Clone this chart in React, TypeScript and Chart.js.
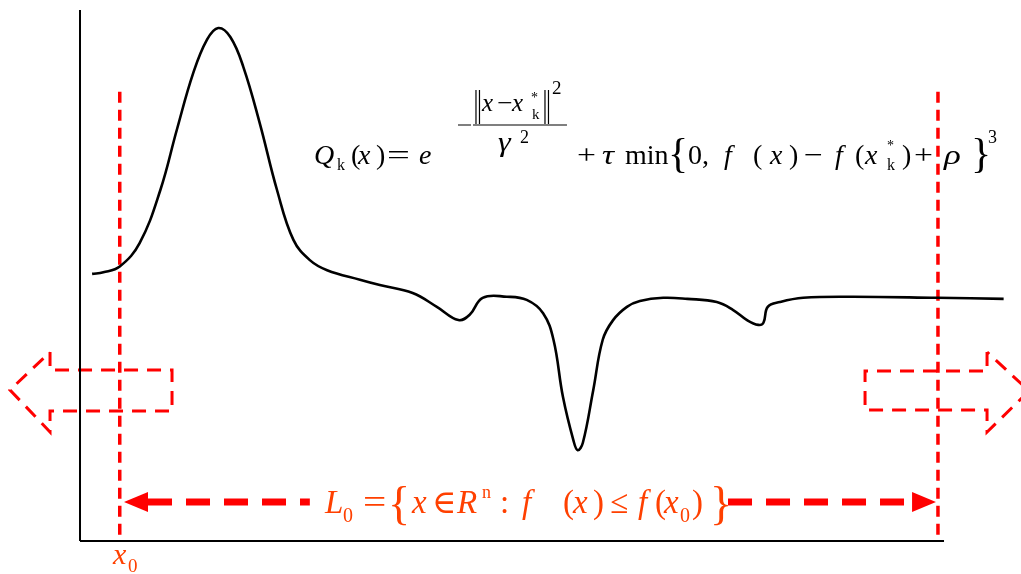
import { useEffect, useRef } from "react";
import { Chart, registerables } from "chart.js";

Chart.register(...registerables);

// Sampled objective curve f(x)
const curveX = [
  1.4, 2.7, 4.6, 6.9, 9.3, 11.2, 13.1, 14.7, 16.0, 17.4, 18.9, 20.8, 22.8, 24.7,
  26.6, 28.6, 32.4, 34.7, 38.5, 41.3, 43.8, 45.1, 46.6, 49.4, 51.7, 53.6, 54.8,
  55.9, 57.1, 57.6, 58.2, 59.4, 60.5, 61.7, 63.3, 64.8, 67.5, 70.3, 73.7, 75.6,
  77.2, 78.5, 79.1, 79.6, 81.0, 83.7, 89.5, 99.2, 106.9,
];
const curveY = [
  50.3, 50.6, 51.7, 56.1, 66.1, 77.4, 88.1, 94.4, 96.6, 94.9, 89.3, 78.7, 66.1,
  56.7, 52.9, 51.0, 49.2, 48.2, 46.7, 44.1, 41.6, 42.6, 45.8, 46.0, 45.4, 42.9,
  37.9, 27.1, 19.0, 17.1, 18.5, 28.4, 37.9, 41.6, 44.1, 45.2, 45.8, 45.6, 45.0,
  43.5, 41.6, 40.7, 41.1, 44.1, 45.0, 45.8, 46.0, 45.8, 45.6,
];

// Axis extents
const axisXMax = 100;
const axisYMax = 100;

// Level-set bounds: x0 and the right end of L0
const boundX = [4.6, 99.3];
const boundTop = 84.6;

// Double arrow spanning L0
const spanY = 7.34;
const spanTips = [5.09, 99.07];
const spanHeadBase = [7.87, 96.3];
const spanGap = [26.6, 75.0];

// Hollow arrows pointing outward
const leftArrowX = [-3.47, -3.47, 10.65, 10.65, -3.47, -3.47, -8.1, -3.47];
const leftArrowY = [35.59, 32.2, 32.2, 24.48, 24.48, 20.53, 28.44, 35.59];
const rightArrowX = [104.98, 104.98, 90.86, 90.86, 104.98, 104.98, 109.84, 104.98];
const rightArrowY = [35.59, 32.02, 32.02, 24.67, 24.67, 20.53, 28.25, 35.59];

const RED = "#ff0000";
const ORANGE = "#ff4000";
const SERIF = "'Liberation Serif', 'DejaVu Serif', serif";

// [text, dx, dy, font size, italic, horizontal stretch]
type Piece = [string, number, number, number, boolean, number?];

// Q_k(x) formula, offsets from its anchor
const formulaAnchor = { x: 27.08, y: 71.0 };
const formulaPieces: Piece[] = [
  ["Q", 0, 0, 28, true],
  ["k", 23, 6, 16, false],
  ["(", 37, 0, 28, false],
  ["x", 44, 0, 28, true],
  [")", 62, 0, 28, false],
  ["=", 73, 0, 28, false, 1.45],
  ["e", 105, 0, 28, true],
  ["x", 168, -53, 25, true],
  ["\u2212", 183, -53, 25, false, 1.1],
  ["x", 198, -53, 25, true],
  ["*", 217, -62, 14, false],
  ["k", 218, -45, 15, false],
  ["2", 238, -70, 19, false],
  ["\u03b3", 184, -13, 28, true, 1.15],
  ["2", 206, -21, 18, false],
  ["+", 263, 0, 28, false, 1.2],
  ["\u03c4", 288, 0, 28, true, 1.2],
  ["min", 311, 0, 28, false],
  ["{", 354, 3, 42, false],
  ["0", 374, 0, 28, false],
  [",", 388, 0, 28, false],
  ["f", 410, 0, 28, true],
  ["(", 439, 0, 28, false],
  ["x", 456, 0, 28, true],
  [")", 475, 0, 28, false],
  ["\u2212", 490, 0, 28, false, 1.2],
  ["f", 521, 0, 28, true],
  ["(", 541, 0, 28, false],
  ["x", 551, 0, 28, true],
  ["*", 573, -14, 14, false],
  ["k", 573, 6, 16, false],
  [")", 588, 0, 28, false],
  ["+", 600, 0, 28, false, 1.2],
  ["\u03c1", 630, 0, 28, true, 1.25],
  ["}", 657, 3, 42, false],
  ["3", 674, -21, 18, false],
];

// L0 level-set label
const levelAnchor = { x: 28.36, y: 5.27 };
const levelPieces: Piece[] = [
  ["L", 0, 0, 33, true],
  ["0", 18, 9, 20, false],
  ["=", 38, 0, 33, false, 1.25],
  ["{", 63, 6, 46, false],
  ["x", 87, 0, 33, true],
  ["\u2208", 107, 0, 33, false],
  ["R", 132, 0, 33, true],
  ["n", 157, -15, 18, false],
  [":", 175, 0, 33, false],
  ["f", 197, 0, 33, true],
  ["(", 238, 0, 33, false],
  ["x", 248, 0, 33, true],
  [")", 268, 0, 33, false],
  ["\u2264", 285, 0, 33, false],
  ["f", 313, 0, 33, true],
  ["(", 330, 0, 33, false],
  ["x", 339, 0, 33, true],
  ["0", 355, 9, 20, false],
  [")", 367, 0, 33, false],
  ["}", 385, 6, 46, false],
];

// x0 tick label
const x0Anchor = { x: 3.82, y: -4.33 };
const x0Pieces: Piece[] = [
  ["x", 0, 0, 30, true],
  ["0", 15, 8, 19, false],
];

const pts = (xs: number[], ys: number[]) => xs.map((x, i) => ({ x, y: ys[i] }));

function drawPieces(ctx: CanvasRenderingContext2D, ax: number, ay: number, pieces: Piece[], color: string) {
  ctx.fillStyle = color;
  ctx.textBaseline = "alphabetic";
  ctx.textAlign = "left";
  for (const [t, dx, dy, size, italic, sx] of pieces) {
    ctx.font = `${italic ? "italic " : ""}${size}px ${SERIF}`;
    ctx.save();
    ctx.translate(ax + dx, ay + dy);
    ctx.scale(sx ?? 1, 1);
    ctx.fillText(t, 0, 0);
    ctx.restore();
  }
}

const overlayPlugin = {
  id: "diagramOverlay",
  afterDatasetsDraw(chart: Chart) {
    const ctx = chart.ctx;
    const xs = chart.scales.x;
    const ys = chart.scales.y;
    const px = (v: number) => xs.getPixelForValue(v);
    const py = (v: number) => ys.getPixelForValue(v);
    ctx.save();

    // arrowheads of the L0 span
    const yArrow = py(spanY);
    ctx.fillStyle = RED;
    for (let i = 0; i < 2; i++) {
      ctx.beginPath();
      ctx.moveTo(px(spanTips[i]), yArrow);
      ctx.lineTo(px(spanHeadBase[i]), yArrow - 10);
      ctx.lineTo(px(spanHeadBase[i]), yArrow + 10);
      ctx.closePath();
      ctx.fill();
    }

    // formula
    const fx = px(formulaAnchor.x);
    const fy = py(formulaAnchor.y);
    drawPieces(ctx, fx, fy, formulaPieces, "#000");
    ctx.strokeStyle = "#000";
    ctx.lineWidth = 1.2;
    ctx.beginPath();
    ctx.moveTo(fx + 144, fy - 39);
    ctx.lineTo(fx + 157, fy - 39);
    ctx.moveTo(fx + 159, fy - 39);
    ctx.lineTo(fx + 253, fy - 39);
    for (const bx of [162, 165.5, 231, 234.5]) {
      ctx.moveTo(fx + bx, fy - 74);
      ctx.lineTo(fx + bx, fy - 40);
    }
    ctx.stroke();

    drawPieces(ctx, px(levelAnchor.x), py(levelAnchor.y), levelPieces, ORANGE);
    drawPieces(ctx, px(x0Anchor.x), py(x0Anchor.y), x0Pieces, ORANGE);
    ctx.restore();
  },
};

export default function App() {
  const ref = useRef<HTMLCanvasElement | null>(null);

  useEffect(() => {
    if (!ref.current) return;
    const straight = { tension: 0, pointRadius: 0, fill: false, borderJoinStyle: "miter" as const };
    const chart = new Chart(ref.current, {
      type: "line",
      data: {
        datasets: [
          {
            data: pts(curveX, curveY),
            borderColor: "#000",
            borderWidth: 2.6,
            tension: 0.4,
            pointRadius: 0,
            fill: false,
          },
          { ...straight, data: [{ x: 0, y: 0 }, { x: 0, y: axisYMax }], borderColor: "#000", borderWidth: 2 },
          { ...straight, data: [{ x: 0, y: 0 }, { x: axisXMax, y: 0 }], borderColor: "#000", borderWidth: 2 },
          ...boundX.map((bx) => ({
            ...straight,
            data: [{ x: bx, y: boundTop }, { x: bx, y: 0 }],
            borderColor: RED,
            borderWidth: 3.5,
            borderDash: [11, 7],
          })),
          {
            ...straight,
            data: [{ x: spanHeadBase[0], y: spanY }, { x: spanGap[0], y: spanY }],
            borderColor: RED,
            borderWidth: 7,
            borderDash: [24, 14],
          },
          {
            ...straight,
            data: [{ x: spanGap[1], y: spanY }, { x: spanHeadBase[1], y: spanY }],
            borderColor: RED,
            borderWidth: 7,
            borderDash: [24, 14],
          },
          {
            ...straight,
            data: pts(leftArrowX, leftArrowY),
            borderColor: RED,
            borderWidth: 3,
            borderDash: [14, 9],
          },
          {
            ...straight,
            data: pts(rightArrowX, rightArrowY),
            borderColor: RED,
            borderWidth: 3,
            borderDash: [14, 9],
          },
        ],
      },
      options: {
        responsive: false,
        animation: false,
        layout: { padding: 0 },
        clip: false,
        scales: {
          x: { type: "linear", min: -9.26, max: 108.91, display: false },
          y: { type: "linear", min: -6.21, max: 101.88, display: false },
        },
        plugins: { legend: { display: false }, tooltip: { enabled: false } },
        events: [],
      } as any,
      plugins: [overlayPlugin],
    });
    return () => chart.destroy();
  }, []);

  return (
    <div style={{ position: "absolute", left: 0, top: 0, width: 1021, height: 574, background: "#fff" }}>
      <canvas ref={ref} width={1021} height={574} />
    </div>
  );
}
